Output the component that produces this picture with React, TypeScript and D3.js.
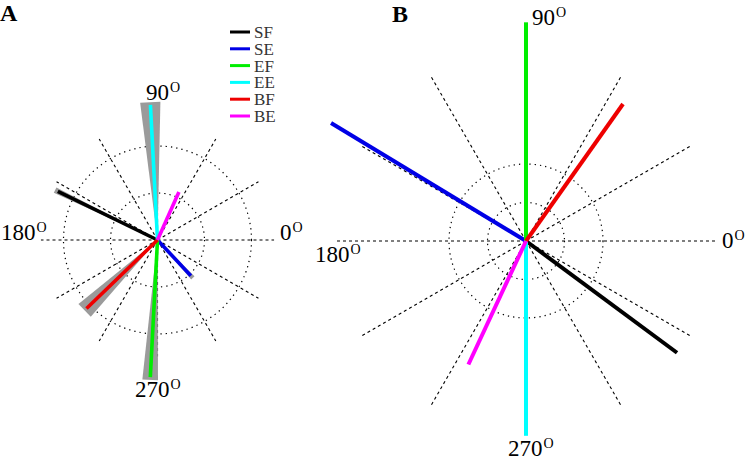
import * as d3 from "d3";

// series shared by both panels
const names = ["SF", "SE", "EF", "EE", "BF", "BE"];
const colors = ["#000000", "#0000e6", "#00ee00", "#00ffff", "#ee0000", "#ff00ff"];

// panel A: mean direction (deg), length (ring units), spread half-angle (deg)
const angleA = [154, 313, 267, 93, 224, 66];
const lengthA = [1.18, 0.52, 1.46, 1.44, 1.05, 0.56];
const spreadA = [1.5, 2.5, 3.2, 4.2, 5, 0];

// panel B: direction (deg), length (ring units)
const angleB = [323.5, 148.8, 90, 270, 54.7, 245];
const lengthB = [2.44, 2.96, 2.84, 2.53, 2.18, 1.77];

const spokeAngles = d3.range(0, 360, 30);
const tickLabels = ["0", "90", "180", "270"];

const serif = "'Liberation Serif', 'Times New Roman', serif";
const rad = (deg: number) => (Math.PI / 2) - (deg * Math.PI) / 180;
const pt = (deg: number, r: number) => d3.pointRadial(rad(deg), r);

type PanelProps = {
  cx: number;
  cy: number;
  ringPx: number;
  rings: number[];
  spoke: number;
  labelPos: [number, number][];
  angles: number[];
  lengths: number[];
  spreads?: number[];
  lineWidth: number;
};

function Panel({ cx, cy, ringPx, rings, spoke, labelPos, angles, lengths, spreads, lineWidth }: PanelProps) {
  const r = d3.scaleLinear().domain([0, 1]).range([0, ringPx]);
  const line = d3.line();
  return (
    <g>
      <g transform={`translate(${cx},${cy})`}>
        {rings.map((v) => (
          <circle key={v} r={r(v)} fill="none" stroke="#000" strokeWidth={1.2} strokeDasharray="1.3 4" />
        ))}
        {spokeAngles.map((a) => {
          const [x, y] = pt(a, r(spoke));
          return <line key={a} x1={0} y1={0} x2={x} y2={y} stroke="#000" strokeWidth={1.1} strokeDasharray="3 3" />;
        })}
        {spreads &&
          angles.map((a, i) =>
            spreads[i] > 0 ? (
              <path
                key={"g" + i}
                d={line([[0, 0], pt(a - spreads[i], r(lengths[i]) + 3), pt(a + spreads[i], r(lengths[i]) + 3)])! + "Z"}
                fill="#9b9b9b"
              />
            ) : null
          )}
        {angles.map((a, i) => {
          const [x, y] = pt(a, r(lengths[i]));
          return <line key={names[i]} x1={0} y1={0} x2={x} y2={y} stroke={colors[i]} strokeWidth={lineWidth} />;
        })}
      </g>
      {tickLabels.map((t, i) => (
        <text key={t} x={labelPos[i][0]} y={labelPos[i][1]} fontFamily={serif} fontSize={23} fill="#000">
          {t}
          <tspan fontSize={14} dy={-8} dx={1}>O</tspan>
        </text>
      ))}
    </g>
  );
}

export default function App() {
  return (
    <svg
      width={745}
      height={462}
      style={{ position: "absolute", left: 0, top: 0, background: "#fff" }}
    >
      <text x={0} y={21} fontFamily={serif} fontWeight="bold" fontSize={24}>A</text>
      <text x={392} y={22} fontFamily={serif} fontWeight="bold" fontSize={24}>B</text>

      <Panel
        cx={157.5}
        cy={240}
        ringPx={94}
        rings={[0.5, 1]}
        spoke={1.24}
        labelPos={[[280, 240], [146, 100], [1, 240], [135, 397]]}
        angles={angleA}
        lengths={lengthA}
        spreads={spreadA}
        lineWidth={3.6}
      />
      <Panel
        cx={526}
        cy={241}
        ringPx={77}
        rings={[0.5, 1]}
        spoke={2.49}
        labelPos={[[722, 248], [532, 25], [315, 262], [508, 456]]}
        angles={angleB}
        lengths={lengthB}
        lineWidth={4}
      />

      {/* legend */}
      <g transform="translate(230,32)">
        {names.map((n, i) => (
          <g key={n} transform={`translate(0,${i * 16.8})`}>
            <line x1={0} x2={20} y1={0} y2={0} stroke={colors[i]} strokeWidth={3} />
            <text x={24} y={6} fontFamily={serif} fontSize={17} fill="#333">{n}</text>
          </g>
        ))}
      </g>
    </svg>
  );
}
